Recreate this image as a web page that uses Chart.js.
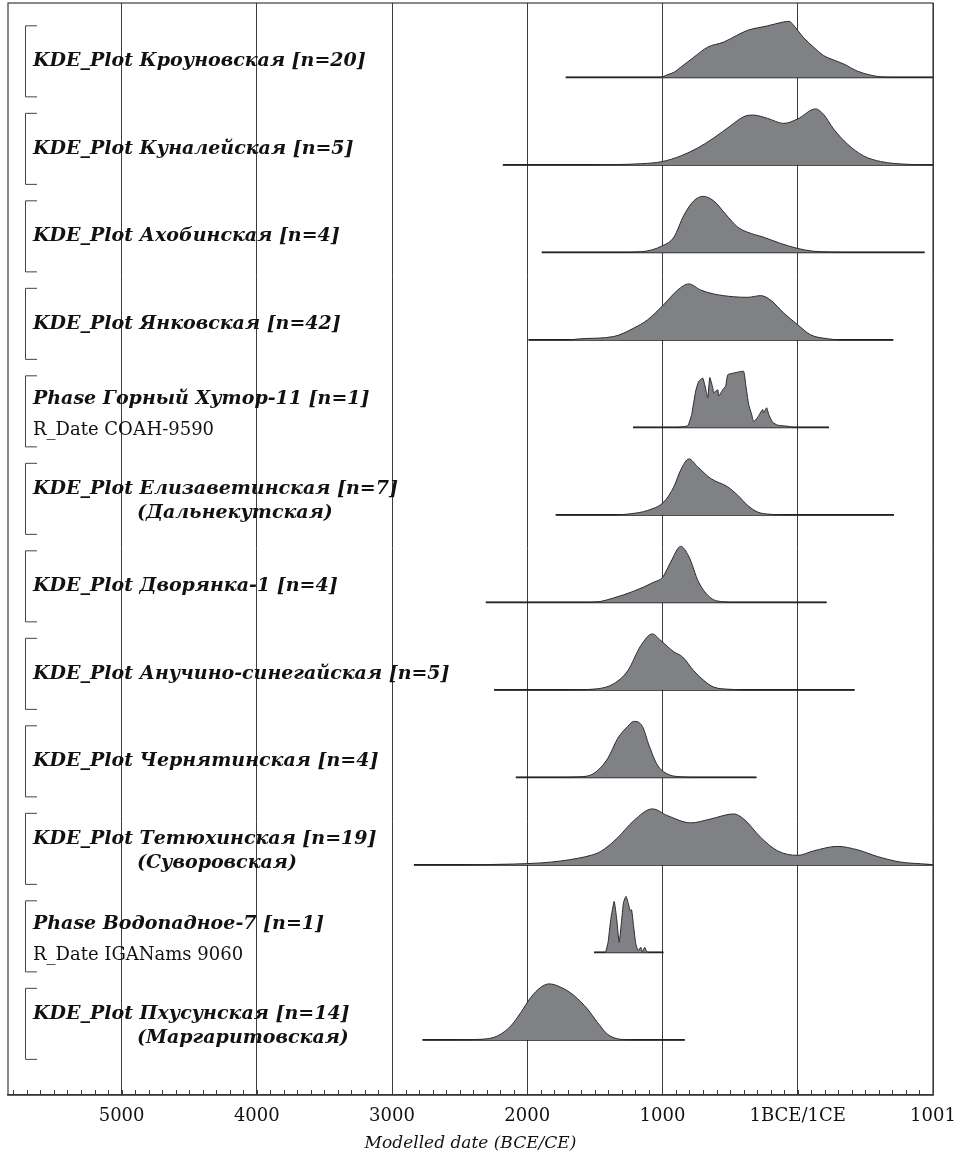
<!DOCTYPE html>
<html>
<head>
<meta charset="utf-8">
<script src="https://cdn.jsdelivr.net/npm/chart.js@4.4.1/dist/chart.umd.min.js"></script>
<style>
  html, body { margin: 0; padding: 0; background: #fff; }
  #wrap { width: 959px; height: 1161px; }
</style>
</head>
<body>
<div id="wrap"><canvas id="chart"></canvas></div>
<script>
// row labels, top to bottom
const titles = [
  'KDE_Plot Кроуновская [n=20]',
  'KDE_Plot Куналейская [n=5]',
  'KDE_Plot Ахобинская [n=4]',
  'KDE_Plot Янковская [n=42]',
  'Phase Горный Хутор-11 [n=1]',
  'KDE_Plot Елизаветинская [n=7]',
  'KDE_Plot Дворянка-1 [n=4]',
  'KDE_Plot Анучино-синегайская [n=5]',
  'KDE_Plot Чернятинская [n=4]',
  'KDE_Plot Тетюхинская [n=19]',
  'Phase Водопадное-7 [n=1]',
  'KDE_Plot Пхусунская [n=14]'
];
const subtitles = ['', '', '', '', 'R_Date СОАН-9590', '(Дальнекутская)', '', '', '',
  '(Суворовская)', 'R_Date IGANams 9060', '(Маргаритовская)'];

// span of each plotted range (years, BCE negative)
const rangeStart = [-1715, -2180, -1892, -1990, -1217, -1789, -2306, -2245, -2084, -2838, -1505, -2774];
const rangeEnd = [1001, 1001, 939, 707, 231, 712, 214, 421, -305, 1001, -993, -835];

// axis
const tickValues = [-5000, -4000, -3000, -2000, -1000, 0, 1001];
const tickLabels = ['5000', '4000', '3000', '2000', '1000', '1BCE/1CE', '1001'];

// distributions: [year, relative density 0..100]
const kroun = [[-1715,0],[-1040,0],[-1000,1],[-960,5],[-915,9],[-865,18],[-768,36],[-665,54],[-547,63],
  [-450,75],[-370,84],[-222,92],[-103,99],[-60,100],[-37,95],[44,71],[118,54],[192,39],[266,31],[340,24],
  [443,11],[540,4],[613,1],[700,0],[1001,0]];
const kunal = [[-2180,0],[-1500,0],[-1360,0.5],[-1160,2],[-998,6],[-865,16],[-740,30],[-621,48],[-495,70],
  [-399,86],[-333,89],[-222,83],[-103,74],[0,82],[133,100],[192,90],[266,64],[369,37],[488,16],[613,6],
  [813,1],[1001,0]];
const akhob = [[-1892,0],[-1300,0],[-1160,1],[-998,12],[-916,27],[-842,66],[-768,92],[-702,100],[-621,92],
  [-532,68],[-443,45],[-370,36],[-251,27],[-126,16],[0,7],[118,2],[244,0.5],[400,0],[939,0]];
const yankov = [[-1990,0],[-1700,0],[-1604,2],[-1360,6],[-1212,21],[-1109,36],[-990,63],[-887,89],[-805,100],
  [-717,89],[-621,82],[-473,77],[-370,76],[-273,79],[-200,71],[-103,48],[0,27],[96,9],[222,2],[320,0],[707,0]];
const gorny = [[-1217,0],[-887,0],[-813,3],[-784,23],[-754,65],[-732,82],[-702,88],[-687,76],[-665,53],
  [-650,89],[-628,71],[-621,62],[-591,67],[-584,56],[-554,67],[-532,74],[-517,94],[-473,97],[-436,99],
  [-399,100],[-384,76],[-362,41],[-340,23],[-325,10],[-296,18],[-259,32],[-251,26],[-229,35],[-214,23],
  [-185,9],[-148,4],[-74,2],[-30,0],[231,0]];
const elizav = [[-1789,0],[-1350,0],[-1234,2],[-1109,8],[-990,23],[-916,50],[-865,80],[-805,100],[-740,86],
  [-643,65],[-517,50],[-443,35],[-370,17],[-296,5],[-200,1],[-100,0],[712,0]];
const dvor = [[-2306,0],[-1600,0],[-1478,1],[-1360,8],[-1212,20],[-1064,36],[-998,45],[-939,72],[-865,100],
  [-805,82],[-732,36],[-643,8],[-547,1],[-450,0],[214,0]];
const anuch = [[-2245,0],[-1700,0],[-1480,2],[-1360,11],[-1257,34],[-1160,79],[-1074,100],[-1012,88],
  [-916,68],[-852,59],[-768,34],[-695,17],[-621,5],[-495,1],[-400,0],[421,0]];
const chern = [[-2084,0],[-1750,0],[-1604,1],[-1508,7],[-1404,34],[-1330,70],[-1257,91],[-1212,100],
  [-1148,91],[-1099,57],[-1037,22],[-963,6],[-865,1],[-750,0],[-305,0]];
const tetyu = [[-2838,0],[-2500,0],[-2300,0.5],[-2100,1.5],[-1900,3.5],[-1750,7],[-1620,12],[-1530,17],
  [-1456,24],[-1333,48],[-1212,79],[-1074,100],[-963,88],[-791,75],[-643,82],[-473,91],[-399,82],[-273,49],
  [-148,25],[0,17],[118,25],[293,33],[441,27],[589,15],[761,5],[909,2],[1001,0.5]];
const vodop = [[-1505,0],[-1425,0],[-1419,1],[-1402,18],[-1382,59],[-1357,91],[-1338,59],[-1320,18],
  [-1303,54],[-1288,89],[-1269,100],[-1251,86],[-1238,74],[-1228,76],[-1214,48],[-1197,15],[-1180,3],
  [-1160,9],[-1148,1],[-1131,9],[-1116,1],[-1100,0],[-993,0]];
const pkhus = [[-2774,0],[-2550,0],[-2343,1],[-2220,7],[-2121,25],[-2047,49],[-1973,76],[-1899,94],
  [-1838,100],[-1752,94],[-1653,79],[-1554,55],[-1480,31],[-1406,10],[-1308,1],[-1200,0],[-835,0]];

const series = [kroun, kunal, akhob, yankov, gorny, elizav, dvor, anuch, chern, tetyu, vodop, pkhus];
const jagged = [false, false, false, false, true, false, false, false, false, false, true, false];

const nRows = titles.length;
const peak = 0.64; // height of a full peak, in row units
const serif = '"DejaVu Serif", "Liberation Serif", serif';

const datasets = [];
series.forEach((pts, i) => {
  const base = nRows - 1 - i;
  datasets.push({
    data: pts.map(p => ({ x: p[0], y: base + p[1] / 100 * peak })),
    borderColor: '#2a2a2a',
    borderWidth: 1,
    backgroundColor: '#808185',
    fill: { value: base },
    pointRadius: 0,
    cubicInterpolationMode: jagged[i] ? 'default' : 'monotone',
    tension: jagged[i] ? 0.15 : 0.4
  });
  datasets.push({
    data: [{ x: rangeStart[i], y: base }, { x: rangeEnd[i], y: base }],
    borderColor: '#151515',
    borderWidth: 1.6,
    fill: false,
    pointRadius: 0
  });
});

const overlay = {
  id: 'overlay',
  afterDraw(chart) {
    const { ctx, chartArea: a, scales: { x, y } } = chart;
    ctx.save();
    ctx.strokeStyle = '#3a3a3a';
    ctx.lineWidth = 1.2;
    ctx.strokeRect(a.left, a.top, a.right - a.left, a.bottom - a.top);

    // minor ticks every 100 years, pointing up from the axis
    ctx.beginPath();
    for (let v = -5800; v <= 1000; v += 100) {
      const px = Math.round(x.getPixelForValue(v)) + 0.5;
      ctx.moveTo(px, a.bottom);
      ctx.lineTo(px, a.bottom - 5);
    }
    ctx.lineWidth = 1;
    ctx.stroke();

    const unit = y.getPixelForValue(0) - y.getPixelForValue(1);
    titles.forEach((t, i) => {
      const basePx = y.getPixelForValue(nRows - 1 - i);
      const top = basePx - 0.595 * unit;
      const bot = basePx + 0.217 * unit;
      ctx.beginPath();
      ctx.moveTo(37, top + 0.5);
      ctx.lineTo(25.5, top + 0.5);
      ctx.lineTo(25.5, bot + 0.5);
      ctx.lineTo(37, bot + 0.5);
      ctx.strokeStyle = '#444';
      ctx.lineWidth = 1;
      ctx.stroke();

      ctx.fillStyle = '#111';
      ctx.textBaseline = 'alphabetic';
      ctx.textAlign = 'left';
      const sub = subtitles[i];
      const isPhase = t.startsWith('Phase');
      ctx.font = 'italic bold 19px ' + serif;
      if (!sub) {
        ctx.fillText(t, 33, top + 41);
      } else if (isPhase) {
        ctx.fillText(t, 33, top + 29);
        ctx.font = '18px ' + serif;
        ctx.fillText(sub, 33, top + 60);
      } else {
        ctx.fillText(t, 33, top + 31);
        ctx.fillText(sub, 137, top + 55);
      }
    });
    ctx.restore();
  }
};

new Chart(document.getElementById('chart'), {
  type: 'line',
  data: { datasets },
  options: {
    responsive: true,
    maintainAspectRatio: false,
    animation: false,
    layout: { padding: { left: 8, right: 26, top: 3, bottom: 0 } },
    plugins: { legend: { display: false }, tooltip: { enabled: false } },
    scales: {
      x: {
        type: 'linear',
        min: -5840,
        max: 1001,
        afterBuildTicks: s => { s.ticks = tickValues.map(v => ({ value: v })); },
        afterFit: s => { s.paddingLeft = 0; s.paddingRight = 0; },
        ticks: {
          autoSkip: false,
          maxRotation: 0,
          padding: 11,
          color: '#111',
          font: { family: serif, size: 18 },
          callback: (v, idx) => tickLabels[idx]
        },
        grid: { color: '#3c3c3c', lineWidth: 1, drawTicks: false },
        border: { display: true, color: '#333', width: 1.5 },
        title: {
          display: true,
          text: 'Modelled date (BCE/CE)',
          color: '#111',
          font: { family: serif, size: 17, style: 'italic' },
          padding: { top: -5, bottom: 7 }
        }
      },
      y: {
        type: 'linear',
        display: false,
        min: -0.63,
        max: 11.85
      }
    }
  },
  plugins: [overlay]
});
</script>
</body>
</html>
